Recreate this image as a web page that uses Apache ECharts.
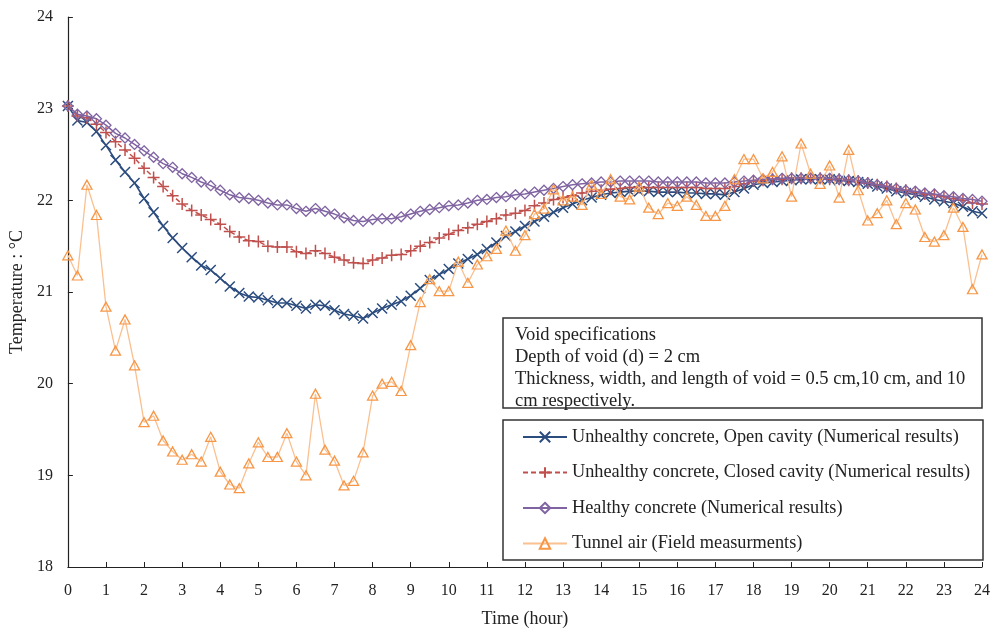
<!DOCTYPE html>
<html>
<head>
<meta charset="utf-8">
<script src="https://cdn.jsdelivr.net/npm/echarts@6/dist/echarts.min.js"></script>
<style>
  html, body { margin: 0; padding: 0; background: #fff; }
  #chart { width: 993px; height: 633px; }
</style>
</head>
<body>
<div id="chart"></div>
<script>
// Sampling clock: one reading every 15 minutes over a day
const hours = Array.from({ length: 97 }, (_, i) => i * 0.25);

const openCavity = [
  23.03, 22.87, 22.85, 22.75, 22.60, 22.44, 22.31, 22.19, 22.02, 21.87, 21.72, 21.59,
  21.48, 21.38, 21.29, 21.24, 21.15, 21.06, 20.99, 20.95, 20.94, 20.91, 20.88, 20.88,
  20.85, 20.82, 20.86, 20.85, 20.80, 20.76, 20.74, 20.71, 20.77, 20.82, 20.86, 20.90,
  20.96, 21.04, 21.13, 21.19, 21.25, 21.31, 21.36, 21.41, 21.47, 21.54, 21.61, 21.66,
  21.72, 21.77, 21.82, 21.87, 21.92, 21.96, 22.00, 22.03, 22.06, 22.08, 22.09, 22.10,
  22.10, 22.10, 22.09, 22.09, 22.09, 22.08, 22.08, 22.07, 22.07, 22.06, 22.09, 22.13,
  22.17, 22.19, 22.20, 22.21, 22.22, 22.23, 22.23, 22.23, 22.23, 22.22, 22.21, 22.20,
  22.18, 22.15, 22.13, 22.10, 22.08, 22.06, 22.04, 22.01, 21.99, 21.97, 21.93, 21.88,
  21.86
];

const closedCavity = [
  23.03, 22.92, 22.90, 22.83, 22.74, 22.64, 22.55, 22.46, 22.35, 22.25, 22.15, 22.05,
  21.96, 21.89, 21.84, 21.79, 21.74, 21.66, 21.60, 21.56, 21.55, 21.50, 21.49, 21.49,
  21.44, 21.42, 21.45, 21.42, 21.38, 21.35, 21.32, 21.31, 21.35, 21.37, 21.40, 21.41,
  21.45, 21.50, 21.54, 21.59, 21.63, 21.67, 21.70, 21.74, 21.77, 21.80, 21.84, 21.86,
  21.89, 21.94, 21.97, 22.01, 22.03, 22.05, 22.08, 22.10, 22.11, 22.12, 22.13, 22.14,
  22.14, 22.14, 22.14, 22.14, 22.14, 22.14, 22.14, 22.13, 22.13, 22.13, 22.15, 22.18,
  22.21, 22.22, 22.23, 22.23, 22.24, 22.24, 22.24, 22.24, 22.23, 22.23, 22.22, 22.21,
  22.19, 22.17, 22.15, 22.13, 22.11, 22.09, 22.07, 22.06, 22.04, 22.02, 22.00, 21.97,
  21.96
];

const healthy = [
  23.03, 22.94, 22.92, 22.89, 22.82, 22.73, 22.68, 22.61, 22.54, 22.47, 22.40, 22.36,
  22.29, 22.25, 22.20, 22.16, 22.11, 22.06, 22.03, 22.02, 22.00, 21.97, 21.95, 21.95,
  21.91, 21.88, 21.91, 21.88, 21.85, 21.81, 21.78, 21.77, 21.79, 21.80, 21.80, 21.82,
  21.85, 21.88, 21.90, 21.92, 21.94, 21.95, 21.97, 22.00, 22.01, 22.03, 22.04, 22.06,
  22.07, 22.09, 22.11, 22.13, 22.15, 22.17, 22.18, 22.19, 22.20, 22.20, 22.21, 22.21,
  22.21, 22.21, 22.20, 22.20, 22.20, 22.20, 22.20, 22.19, 22.19, 22.19, 22.20, 22.21,
  22.22, 22.23, 22.23, 22.24, 22.24, 22.24, 22.24, 22.24, 22.24, 22.23, 22.22, 22.21,
  22.19, 22.17, 22.15, 22.13, 22.11, 22.10, 22.08, 22.07, 22.05, 22.04, 22.02, 22.01,
  21.99
];

const tunnelAir = [
  21.40, 21.18, 22.17, 21.84, 20.84, 20.36, 20.70, 20.20, 19.58, 19.65, 19.38, 19.26,
  19.17, 19.23, 19.15, 19.42, 19.04, 18.90, 18.86, 19.13, 19.36, 19.20, 19.20, 19.46,
  19.15, 19.00, 19.89, 19.28, 19.16, 18.89, 18.94, 19.25, 19.87, 20.00, 20.02, 19.92,
  20.42, 20.89, 21.14, 21.01, 21.01, 21.33, 21.10, 21.30, 21.39, 21.47, 21.67, 21.45,
  21.62, 21.85, 21.91, 22.12, 22.00, 22.04, 21.95, 22.17, 22.07, 22.23, 22.04, 22.01,
  22.15, 21.92, 21.85, 21.97, 21.94, 22.04, 21.95, 21.83, 21.83, 21.94, 22.23, 22.45,
  22.45, 22.24, 22.31, 22.48, 22.04, 22.62, 22.29, 22.18, 22.38, 22.03, 22.55, 22.11,
  21.78, 21.86, 22.00, 21.74, 21.97, 21.90, 21.60, 21.55, 21.62, 21.92, 21.71, 21.03,
  21.41
];

const seriesNames = [
  'Unhealthy concrete, Open cavity (Numerical results)',
  'Unhealthy concrete, Closed cavity (Numerical results)',
  'Healthy concrete (Numerical results)',
  'Tunnel air (Field measurments)'
];

const noteLines = [
  'Void specifications',
  'Depth of void (d) = 2 cm',
  'Thickness, width, and length of void = 0.5 cm,10 cm, and 10',
  'cm respectively.'
];

const serif = '"Liberation Serif", "Times New Roman", serif';
const pair = vals => hours.map((h, i) => [h, vals[i]]);

const CROSS = 'path://M0,0L10,10M10,0L0,10';
const PLUS = 'path://M5,0L5,10M0,5L10,5';

const chart = echarts.init(document.getElementById('chart'), null, { renderer: 'canvas' });

chart.setOption({
  animation: false,
  backgroundColor: '#fff',
  grid: { left: 67, right: 8, top: 17, bottom: 60 },
  xAxis: {
    type: 'value', min: 0, max: 24, interval: 1,
    name: 'Time (hour)', nameLocation: 'middle', nameGap: 43,
    nameTextStyle: { fontFamily: serif, fontSize: 18, color: '#222' },
    axisLine: { lineStyle: { color: '#222', width: 1.2 } },
    axisTick: { inside: true, length: 5, lineStyle: { color: '#222' } },
    axisLabel: { fontFamily: serif, fontSize: 16, color: '#222', margin: 16 },
    splitLine: { show: false }
  },
  yAxis: {
    type: 'value', min: 18, max: 24, interval: 1,
    name: 'Temperature : °C', nameLocation: 'middle', nameGap: 40, nameRotate: 90,
    nameTextStyle: { fontFamily: serif, fontSize: 18, color: '#222' },
    axisLine: { show: true, lineStyle: { color: '#222', width: 1.2 } },
    axisTick: { show: true, inside: true, length: 5, lineStyle: { color: '#222' } },
    axisLabel: { fontFamily: serif, fontSize: 16, color: '#222', margin: 15 },
    splitLine: { show: false }
  },
  legend: {
    orient: 'vertical', left: 522, top: 428, padding: 0,
    itemWidth: 44, itemHeight: 13, itemGap: 17.5,
    textStyle: { fontFamily: serif, fontSize: 18.3, color: '#222' },
    data: seriesNames, z: 6
  },
  graphic: [
    {
      type: 'rect', z: 5, shape: { x: 503, y: 318, width: 479, height: 90 },
      style: { fill: '#fff', stroke: '#333', lineWidth: 1.5 }
    },
    {
      type: 'text', z: 6, left: 515, top: 324.5,
      style: { text: noteLines.join('\n'), font: '18.5px ' + serif, lineHeight: 22, fill: '#222' }
    },
    {
      type: 'rect', z: 5, shape: { x: 503, y: 420, width: 480, height: 140 },
      style: { fill: '#fff', stroke: '#333', lineWidth: 1.5 }
    }
  ],
  series: [
    {
      name: seriesNames[0], type: 'line', data: pair(openCavity),
      symbol: CROSS, symbolSize: 10, showAllSymbol: true,
      lineStyle: { color: '#2B4C7E', width: 1.6 },
      itemStyle: { color: 'rgba(0,0,0,0)', borderColor: '#2B4C7E', borderWidth: 1.5 },
      z: 2
    },
    {
      name: seriesNames[1], type: 'line', data: pair(closedCavity),
      symbol: PLUS, symbolSize: 12, showAllSymbol: true,
      lineStyle: { color: '#C0504D', width: 1.5, type: [5, 3] },
      itemStyle: { color: 'rgba(0,0,0,0)', borderColor: '#C0504D', borderWidth: 1.5 },
      z: 3
    },
    {
      name: seriesNames[2], type: 'line', data: pair(healthy),
      symbol: 'diamond', symbolSize: [10, 10], showAllSymbol: true,
      lineStyle: { color: '#8064A2', width: 1.5 },
      itemStyle: { color: 'rgba(0,0,0,0)', borderColor: '#8064A2', borderWidth: 1.3 },
      z: 4
    },
    {
      name: seriesNames[3], type: 'line', data: pair(tunnelAir),
      symbol: 'triangle', symbolSize: [10, 9], showAllSymbol: true,
      lineStyle: { color: '#FAC090', width: 1.3 },
      itemStyle: { color: 'rgba(0,0,0,0)', borderColor: '#F79646', borderWidth: 1.3 },
      z: 4
    }
  ]
});
</script>
</body>
</html>
